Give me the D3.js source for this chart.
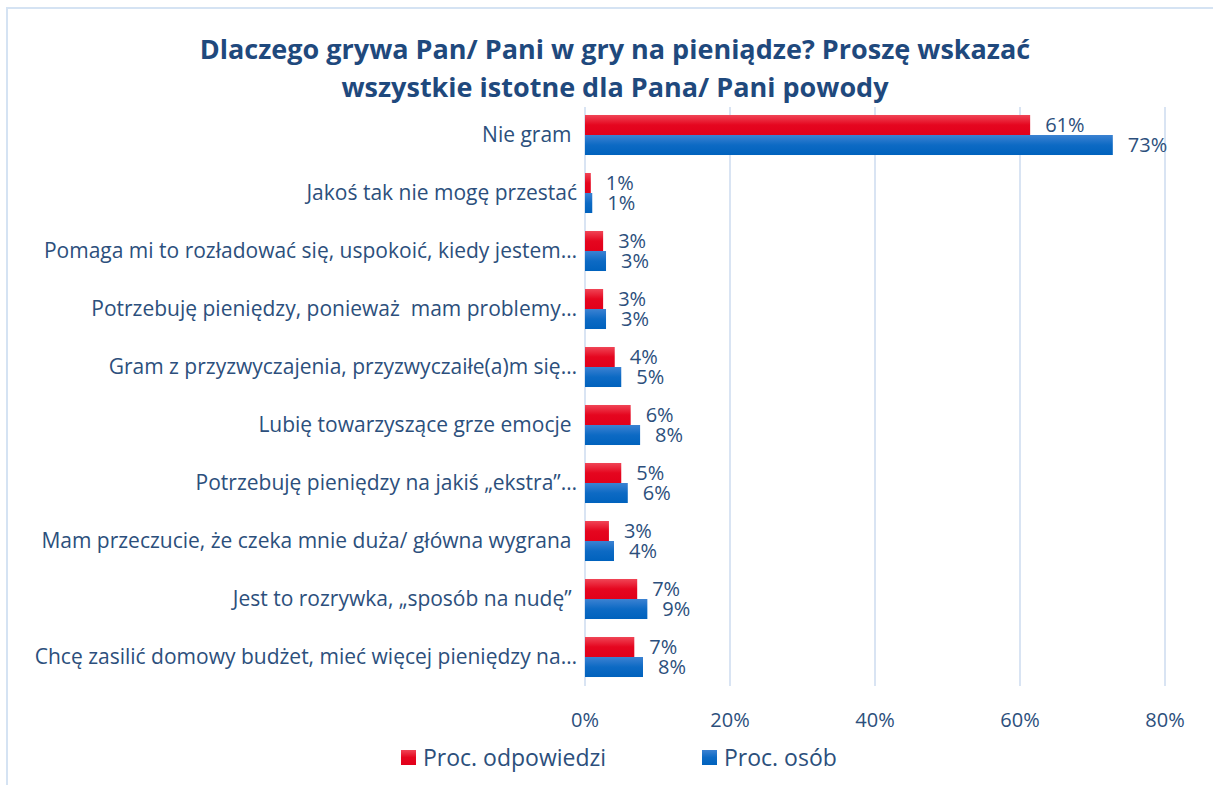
<!DOCTYPE html>
<html>
<head>
<meta charset="utf-8">
<script src="https://cdn.jsdelivr.net/npm/d3@7"></script>
<style>
  body { margin: 0; background: #fff; }
  text { font-family: "Open Sans", sans-serif; white-space: pre; }
</style>
</head>
<body>
<script>
// Categories from top to bottom
const categories = [
  'Nie gram ',
  'Jakoś tak nie mogę przestać',
  'Pomaga mi to rozładować się, uspokoić, kiedy jestem…',
  'Potrzebuję pieniędzy, ponieważ  mam problemy…',
  'Gram z przyzwyczajenia, przyzwyczaiłe(a)m się…',
  'Lubię towarzyszące grze emocje ',
  'Potrzebuję pieniędzy na jakiś „ekstra”…',
  'Mam przeczucie, że czeka mnie duża/ główna wygrana ',
  'Jest to rozrywka, „sposób na nudę” ',
  'Chcę zasilić domowy budżet, mieć więcej pieniędzy na…'
];
// Series values (%)
const responses = [61.4, 0.8, 2.5, 2.5, 4.1, 6.3, 5.0, 3.3, 7.2, 6.8];
const persons   = [72.8, 1.0, 2.9, 2.9, 5.0, 7.6, 5.9, 4.0, 8.6, 8.0];
const seriesNames = ['Proc. odpowiedzi', 'Proc. osób'];
const ticks = [0, 20, 40, 60, 80];

const W = 1213, H = 785;
const TEXT = '#1F497D';
const LABEL = '#2C4F7C';

const svg = d3.select('body').append('svg')
  .attr('width', W).attr('height', H);

const defs = svg.append('defs');
const gradRed = defs.append('linearGradient').attr('id', 'gRed')
  .attr('x1', 0).attr('y1', 0).attr('x2', 0).attr('y2', 1);
gradRed.append('stop').attr('offset', '0%').attr('stop-color', '#F04556');
gradRed.append('stop').attr('offset', '50%').attr('stop-color', '#E5061F');
gradRed.append('stop').attr('offset', '100%').attr('stop-color', '#E2001A');
const gradBlue = defs.append('linearGradient').attr('id', 'gBlue')
  .attr('x1', 0).attr('y1', 0).attr('x2', 0).attr('y2', 1);
gradBlue.append('stop').attr('offset', '0%').attr('stop-color', '#3C82D2');
gradBlue.append('stop').attr('offset', '50%').attr('stop-color', '#0D6AC4');
gradBlue.append('stop').attr('offset', '100%').attr('stop-color', '#0062BD');
const fills = ['url(#gRed)', 'url(#gBlue)'];

// frame
svg.append('rect')
  .attr('x', 7).attr('y', 8).attr('width', W).attr('height', H)
  .attr('fill', 'none').attr('stroke', '#D5E3F3').attr('stroke-width', 2);

// title
const title = svg.append('text')
  .attr('text-anchor', 'middle')
  .attr('font-weight', 'bold')
  .attr('font-size', '27px')
  .attr('fill', TEXT);
title.append('tspan').attr('x', 615).attr('y', 59)
  .text('Dlaczego grywa Pan/ Pani w gry na pieniądze? Proszę wskazać');
title.append('tspan').attr('x', 615).attr('y', 97)
  .text('wszystkie istotne dla Pana/ Pani powody');

const x = d3.scaleLinear().domain([0, 80]).range([585, 1165]);
const y = d3.scaleBand().domain(categories).range([106, 686])
  .paddingInner(0.31).paddingOuter(0.155);
const ySub = d3.scaleBand().domain([0, 1]).range([0, y.bandwidth()]);

// gridlines
svg.append('g').selectAll('line')
  .data(ticks)
  .join('line')
    .attr('x1', d => x(d)).attr('x2', d => x(d))
    .attr('y1', 107).attr('y2', 686)
    .attr('stroke', '#D9E4F3').attr('stroke-width', 2);

// x axis labels
svg.append('g').selectAll('text')
  .data(ticks)
  .join('text')
    .attr('x', d => x(d)).attr('y', 727)
    .attr('text-anchor', 'middle')
    .attr('font-size', '20px')
    .attr('fill', LABEL)
    .text(d => d + '%');

// category labels
svg.append('g').selectAll('text')
  .data(categories)
  .join('text')
    .attr('x', 577)
    .attr('y', d => y(d) + y.bandwidth() / 2)
    .attr('dy', '0.35em')
    .attr('text-anchor', 'end')
    .attr('font-size', '21px')
    .attr('fill', LABEL)
    .text(d => d);

const rows = categories.map((c, i) => ({ c, vals: [responses[i], persons[i]] }));

const group = svg.append('g').selectAll('g')
  .data(rows)
  .join('g')
    .attr('transform', d => `translate(0,${y(d.c)})`);

group.selectAll('rect')
  .data(d => d.vals)
  .join('rect')
    .attr('x', x(0))
    .attr('y', (d, i) => ySub(i))
    .attr('width', d => x(d) - x(0))
    .attr('height', ySub.bandwidth())
    .attr('fill', (d, i) => fills[i]);

group.selectAll('text')
  .data(d => d.vals)
  .join('text')
    .attr('x', d => x(d) + 15)
    .attr('y', (d, i) => ySub(i) + ySub.bandwidth() / 2)
    .attr('dy', '0.35em')
    .attr('font-size', '20px')
    .attr('fill', LABEL)
    .text(d => Math.round(d) + '%');

// legend
const legend = svg.append('g').selectAll('g')
  .data(seriesNames)
  .join('g')
    .attr('transform', (d, i) => `translate(${[401, 702][i]},750)`);
legend.append('rect')
  .attr('width', 15).attr('height', 15)
  .attr('fill', (d, i) => fills[i]);
legend.append('text')
  .attr('x', 22).attr('y', 16)
  .attr('font-size', '23px')
  .attr('fill', LABEL)
  .text(d => d);
</script>
</body>
</html>
